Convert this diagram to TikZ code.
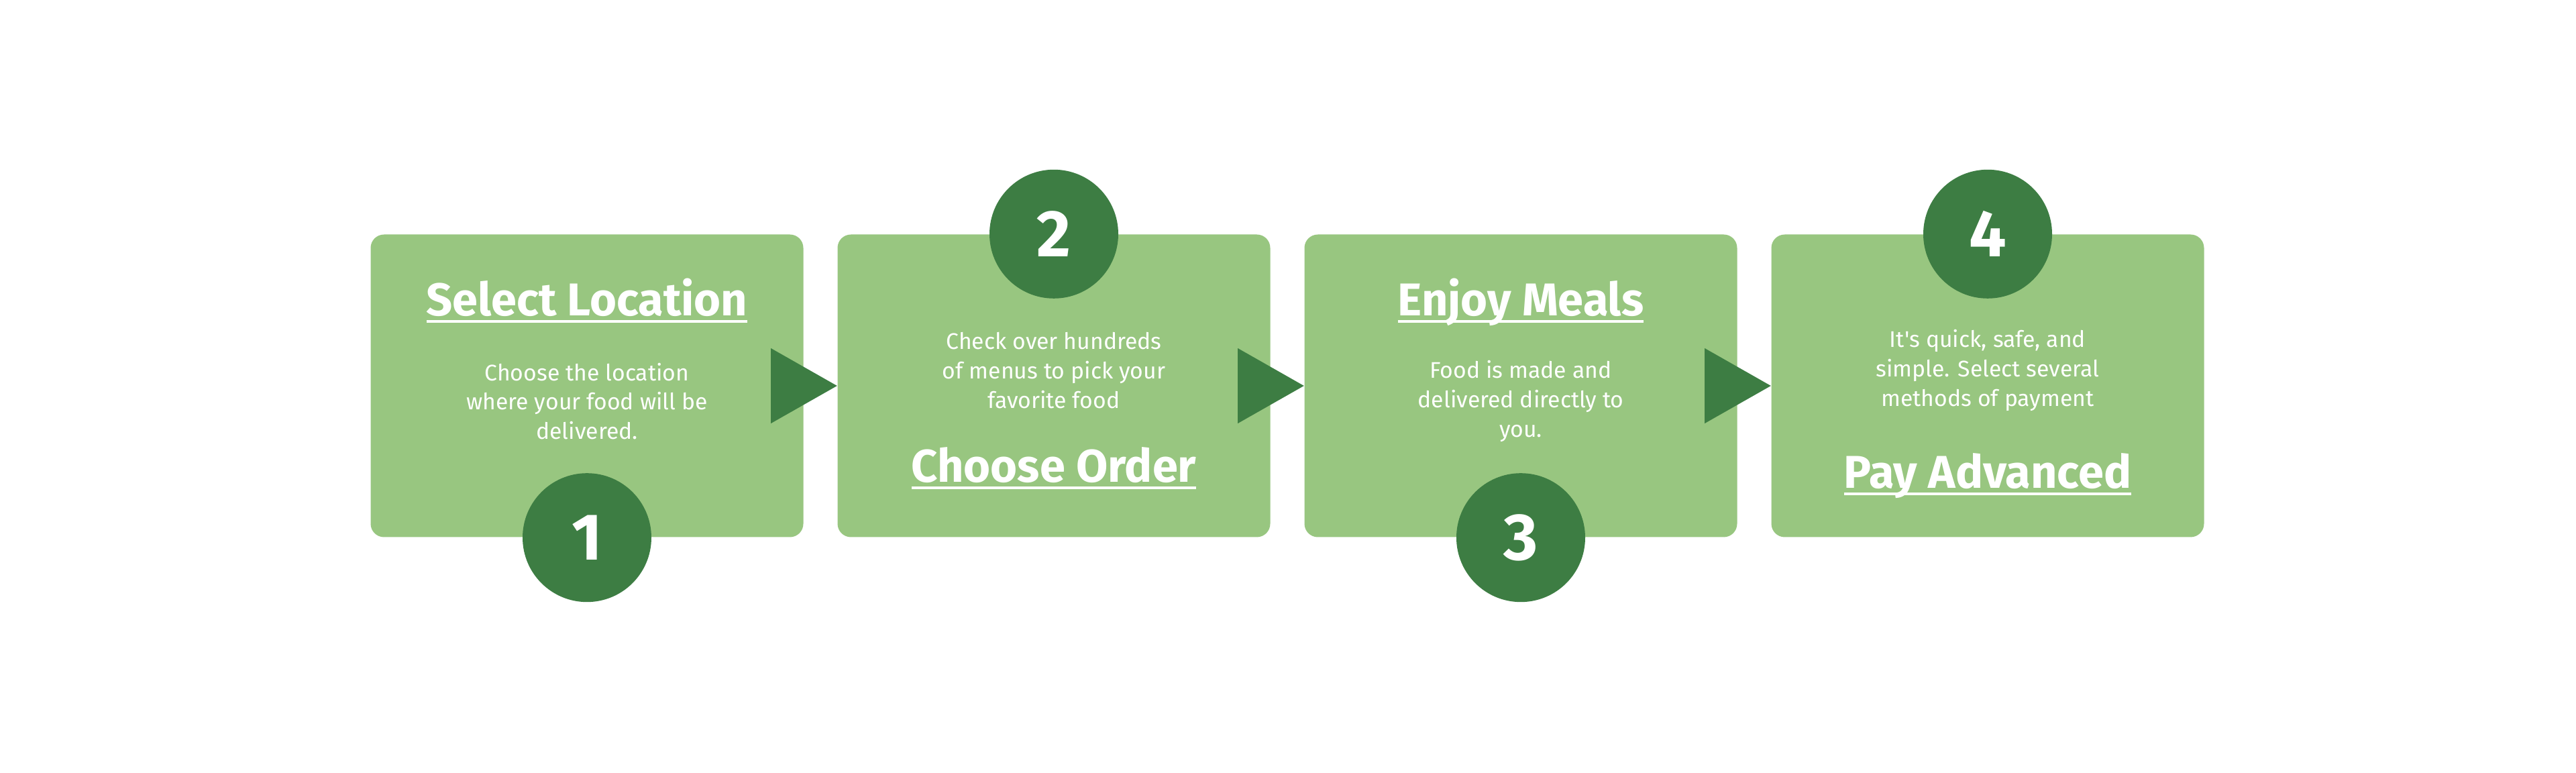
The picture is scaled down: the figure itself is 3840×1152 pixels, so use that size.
\documentclass[tikz,border=0pt]{standalone}
\usepackage{fontspec}
\setmainfont{Fira Sans}
\definecolor{leafgreen}{RGB}{152,198,128}
\definecolor{darkgreen}{RGB}{61,125,67}
\newcommand\ulinetext[1]{\setbox0\hbox{#1}\rlap{\rule[-0.14em]{\wd0}{0.055em}}\box0}

\begin{document}
\begin{tikzpicture}[x=0.1mm,y=-0.1mm,
    stepbox/.style={fill=leafgreen, rounded corners=2mm, minimum width=64.5mm, minimum height=45.1mm, inner sep=0pt},
    badge/.style={circle, fill=darkgreen, minimum size=19.2mm, inner sep=0pt, text=white, font=\fontsize{28}{30}\selectfont\bfseries},
    heading/.style={text=white, anchor=base, inner sep=0pt, font=\fontsize{19.5}{21}\selectfont\bfseries},
    blurb/.style={text=white, align=center, inner sep=0pt, font=\fontsize{9.6}{12.5}\selectfont}]
                \useasboundingbox (0,0) rectangle (3840,1152);
                \fill[white] (0,0) rectangle (3840,1152);
                % steps
                \node[stepbox] (box1) at (875,575) {};
                \node[stepbox] (box2) at (1571,575) {};
                \node[stepbox] (box3) at (2267,575) {};
                \node[stepbox] (box4) at (2963,575) {};
                % arrows between steps
                \fill[darkgreen] ([xshift=-4.9mm,yshift=5.6mm]box1.east) -- (box2.west) -- ([xshift=-4.9mm,yshift=-5.6mm]box1.east) -- cycle;
                \fill[darkgreen] ([xshift=-4.9mm,yshift=5.6mm]box2.east) -- (box3.west) -- ([xshift=-4.9mm,yshift=-5.6mm]box2.east) -- cycle;
                \fill[darkgreen] ([xshift=-4.9mm,yshift=5.6mm]box3.east) -- (box4.west) -- ([xshift=-4.9mm,yshift=-5.6mm]box3.east) -- cycle;
                % numbers
                \node[badge] (num1) at (box1.south) {1};
                \node[badge] (num2) at (box2.north) {2};
                \node[badge] (num3) at (box3.south) {3};
                \node[badge] (num4) at (box4.north) {4};
                % texts
                \node[heading] (head1) at (875,471) {\ulinetext{Select Location}};
                \node[blurb] (text1) at (875,598) {Choose the location\\where your food will be\\delivered.};
                \node[blurb] (text2) at (1571,552) {Check over hundreds\\of menus to pick your\\favorite food};
                \node[heading] (head2) at (1571,719) {\ulinetext{Choose Order}};
                \node[heading] (head3) at (2267,471) {\ulinetext{Enjoy Meals}};
                \node[blurb] (text3) at (2267,598) {Food is made and\\delivered directly to\\you.};
                \node[blurb] (text4) at (2963,552) {It\textquotesingle s quick, safe, and\\simple. Select several\\methods of payment};
                \node[heading] (head4) at (2963,728) {\ulinetext{Pay Advanced}};
            \end{tikzpicture}
\end{document}
